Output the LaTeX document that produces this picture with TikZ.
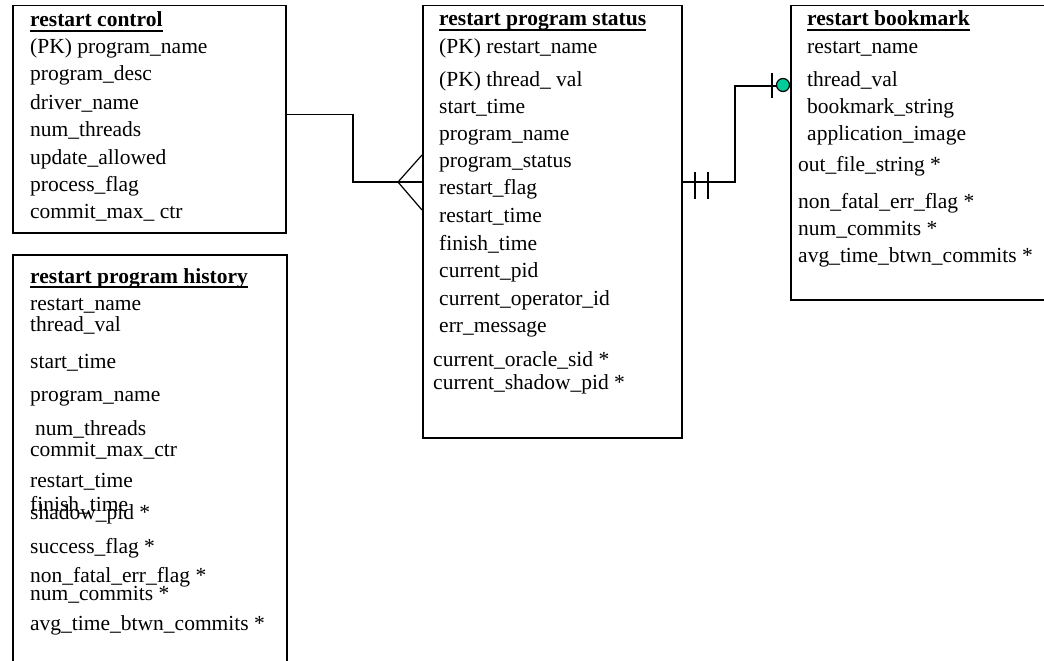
\documentclass[tikz,border=0pt]{standalone}
\usepackage{fontspec}
\setmainfont{Liberation Serif}
\usepackage{tikz}
\usetikzlibrary{positioning}
\definecolor{optgreen}{RGB}{0,204,153}
\tikzstyle{table} = [rectangle, draw, line width=1.5pt, anchor=north west, inner sep=0pt]
\tikzstyle{field} = [anchor=base west, inner sep=0pt, font=\fontsize{21.5}{24}\selectfont]
\tikzstyle{tabtitle} = [field, font=\fontsize{21.5}{24}\selectfont\bfseries]
\tikzstyle{uline} = [draw, line width=1.8pt]
\tikzstyle{line} = [draw, line width=1.2pt]

\begin{document}
\begin{tikzpicture}[x=1pt, y=-1pt]
  \useasboundingbox (0,0) rectangle (1044,661);
  % tables
  \node [table, minimum width=273pt, minimum height=227pt](control) at (12,5) {};
  \node [table, minimum width=274pt, minimum height=420pt](history) at (12,254) {};
  \node [table, minimum width=259pt, minimum height=432pt](status) at (422,5) {};
  \node [table, minimum width=254pt, minimum height=294pt](bookmark) at (790,5) {};
  % restart control
  \node [tabtitle](ctltitle) at (30,27) {restart control};
  \node [field](ctl1) at (30,54) {(PK) program\_name};
  \node [field](ctl2) at (30,81) {program\_desc};
  \node [field](ctl3) at (30,109) {driver\_name};
  \node [field](ctl4) at (30,136) {num\_threads};
  \node [field](ctl5) at (30,164) {update\_allowed};
  \node [field](ctl6) at (30,191) {process\_flag};
  \node [field](ctl7) at (30,218) {commit\_max\_ ctr};
  % restart program history
  \node [tabtitle](histtitle) at (30,283) {restart program history};
  \node [field](hist1) at (30,310) {restart\_name};
  \node [field](hist2) at (30,331) {thread\_val};
  \node [field](hist3) at (30,368) {start\_time};
  \node [field](hist4) at (30,401) {program\_name};
  \node [field](hist5) at (35,435) {num\_threads};
  \node [field](hist6) at (30,456) {commit\_max\_ctr};
  \node [field](hist7) at (30,487) {restart\_time};
  \node [field](hist8) at (30,511) {finish\_time};
  \node [field](hist9) at (30,519) {shadow\_pid *};
  \node [field](hist10) at (30,553) {success\_flag *};
  \node [field](hist11) at (30,582) {non\_fatal\_err\_flag *};
  \node [field](hist12) at (30,600) {num\_commits *};
  \node [field](hist13) at (30,630) {avg\_time\_btwn\_commits *};
  % restart program status
  \node [tabtitle](stattitle) at (439,26) {restart program status};
  \node [field](stat1) at (439,54) {(PK) restart\_name};
  \node [field](stat2) at (439,86) {(PK) thread\_ val};
  \node [field](stat3) at (439,113) {start\_time};
  \node [field](stat4) at (439,140) {program\_name};
  \node [field](stat5) at (439,167) {program\_status};
  \node [field](stat6) at (439,194) {restart\_flag};
  \node [field](stat7) at (439,222) {restart\_time};
  \node [field](stat8) at (439,250) {finish\_time};
  \node [field](stat9) at (439,277) {current\_pid};
  \node [field](stat10) at (439,305) {current\_operator\_id};
  \node [field](stat11) at (439,332) {err\_message};
  \node [field](stat12) at (433,366) {current\_oracle\_sid *};
  \node [field](stat13) at (433,389) {current\_shadow\_pid *};
  % restart bookmark
  \node [tabtitle](bktitle) at (807,26) {restart bookmark};
  \node [field](bk1) at (807,54) {restart\_name};
  \node [field](bk2) at (807,86) {thread\_val};
  \node [field](bk3) at (807,113) {bookmark\_string};
  \node [field](bk4) at (807,140) {application\_image};
  \node [field](bk5) at (798,171) {out\_file\_string *};
  \node [field](bk6) at (798,208) {non\_fatal\_err\_flag *};
  \node [field](bk7) at (798,235) {num\_commits *};
  \node [field](bk8) at (798,262) {avg\_time\_btwn\_commits *};
  % title underlines
  \path [uline] ([yshift=-4pt]ctltitle.base west) -- ([yshift=-4pt]ctltitle.base east);
  \path [uline] ([yshift=-4pt]histtitle.base west) -- ([yshift=-4pt]histtitle.base east);
  \path [uline] ([yshift=-4pt]stattitle.base west) -- ([yshift=-4pt]stattitle.base east);
  \path [uline] ([yshift=-4pt]bktitle.base west) -- ([yshift=-4pt]bktitle.base east);
  % edges
  \coordinate (leftbend) at (353,182);
  \coordinate (crow) at (398,182);
  \coordinate (rightbend) at (735,182);
  \coordinate (optbar) at (772,86);
  \path [line] ([yshift=4.5pt]control.east) -| (leftbend) -- (status.west |- leftbend);
  \path [line] (status.west |- 0,155) -- (crow) -- (status.west |- 0,210);
  \path [line] (status.east |- rightbend) -- (rightbend) |- (bookmark.west |- optbar);
  \path [line] (695,172) -- (695,199);
  \path [line] (708,172) -- (708,199);
  \path [line] (772,73) -- (772,98);
  \path [line, fill=optgreen] (783,85) circle (6.5pt);
\end{tikzpicture}
\end{document}
